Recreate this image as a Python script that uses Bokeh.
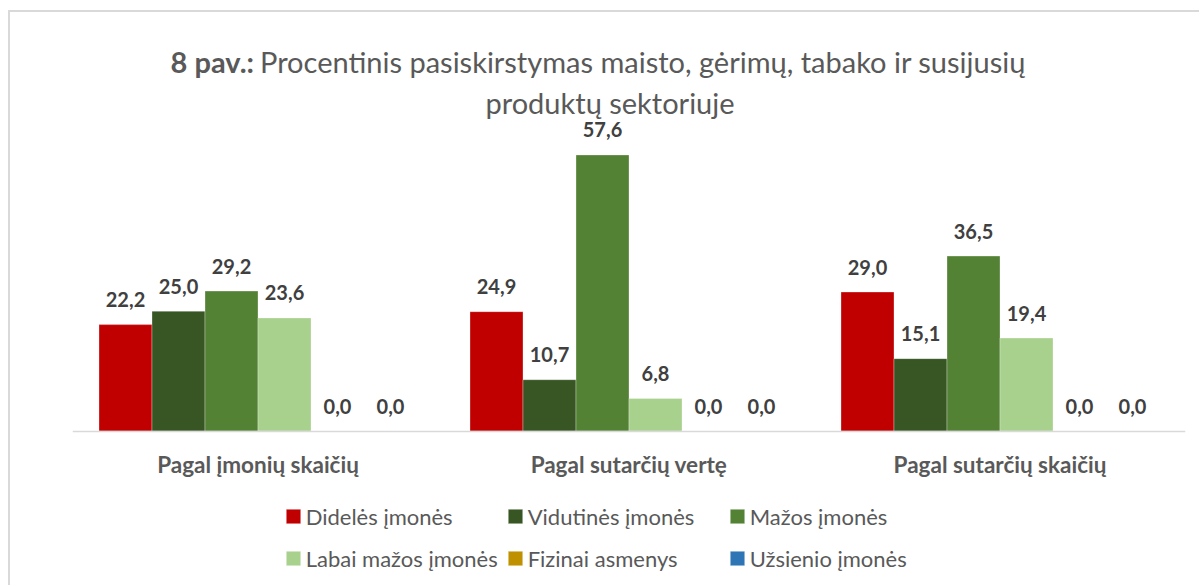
from bokeh.plotting import figure
from bokeh.models import FactorRange, Range1d, Label, Legend, LegendItem, ColumnDataSource
from bokeh.transform import dodge
from bokeh.core.properties import value
from bokeh.embed import file_html
from bokeh.resources import INLINE

# ---- data ----
categories = ["Pagal įmonių skaičių", "Pagal sutarčių vertę", "Pagal sutarčių skaičių"]
series_names = ["Didelės įmonės", "Vidutinės įmonės", "Mažos įmonės",
                "Labai mažos įmonės", "Fizinai asmenys", "Užsienio įmonės"]
didelės = [22.2, 24.9, 29.0]
vidutinės = [25.0, 10.7, 15.1]
mažos = [29.2, 57.6, 36.5]
labai_mažos = [23.6, 6.8, 19.4]
fiziniai = [0.0, 0.0, 0.0]
užsienio = [0.0, 0.0, 0.0]
series_values = [didelės, vidutinės, mažos, labai_mažos, fiziniai, užsienio]
colors = ["#C00000", "#375623", "#548235", "#A9D18E", "#BF9000", "#2E75B6"]

FONT = "Lato"
GRAY = "#595959"

PX = 4.792          # pixels per percent
FH = 573            # frame height
Y_TOP = 418.5 / PX  # frame top above baseline
p = figure(x_range=FactorRange(*categories),
           y_range=Range1d(Y_TOP - FH / PX, Y_TOP),
           frame_width=1113, frame_height=FH,
           min_border_left=62, min_border_right=14, min_border_top=0, min_border_bottom=0,
           output_backend="svg", toolbar_location=None, y_axis_location=None,
           title=None, outline_line_color=None, background_fill_color="white",
           border_fill_color="white")
p.styles = {"position": "relative", "top": "10px", "left": "8px",
            "border-top": "2px solid #d9d9d9", "border-left": "2px solid #d9d9d9"}

p.xgrid.visible = False
p.ygrid.visible = False

bw = 1.0 / 7.0
items = []
for i, (name, vals, col) in enumerate(zip(series_names, series_values, colors)):
    off = (i - 2.5) * bw
    src = ColumnDataSource(dict(cat=categories, val=vals,
                                lab=[f"{v:.1f}".replace(".", ",") for v in vals]))
    r = p.vbar(x=dodge("cat", off, range=p.x_range), top="val", bottom=0, width=bw,
               source=src, fill_color=col, line_color="white", line_width=0.5,
               line_alpha=0.6)
    p.text(x=dodge("cat", off, range=p.x_range), y="val", text="lab", source=src,
           text_align="center", text_baseline="alphabetic", y_offset=-25,
           text_font=value(FONT), text_font_style="bold", text_font_size="20px",
           text_color="#404040")
    items.append(LegendItem(label=name, renderers=[r]))

ax = p.xaxis[0]
ax.fixed_location = 0
ax.axis_line_color = "#d9d9d9"
ax.axis_line_width = 1.5
ax.major_tick_line_color = None
ax.minor_tick_line_color = None
ax.major_label_standoff = 14
ax.major_label_text_font = FONT
ax.major_label_text_font_style = "bold"
ax.major_label_text_font_size = "22.5px"
ax.major_label_text_color = GRAY

# title (two parts on line 1, bold prefix)
p.add_layout(Label(x=(254 - 72.5) / 371, y=(430.5 - 61) / PX, text="8 pav.:",
                   text_align="right", text_baseline="alphabetic",
                   text_font=FONT, text_font_style="bold", text_font_size="29px",
                   text_color=GRAY))
p.add_layout(Label(x=(260 - 72.5) / 371, y=(430.5 - 61) / PX,
                   text="Procentinis pasiskirstymas maisto, gėrimų, tabako ir susijusių",
                   text_align="left", text_baseline="alphabetic",
                   text_font=FONT, text_font_size="29px", text_color=GRAY))
p.add_layout(Label(x=(610 - 72.5) / 371, y=(430.5 - 102) / PX,
                   text="produktų sektoriuje",
                   text_align="center", text_baseline="alphabetic",
                   text_font=FONT, text_font_size="29px", text_color=GRAY))

legend = Legend(items=items, location=(211.7, 6), orientation="horizontal", ncols=3,
                glyph_width=18, glyph_height=18, label_standoff=4, label_width=200,
                label_height=42, spacing=0, padding=0, margin=0,
                label_text_font=FONT, label_text_font_size="22px", label_text_color=GRAY,
                border_line_color=None, background_fill_alpha=0)
p.add_layout(legend, "center")

open("out.html", "w").write(file_html(p, INLINE))
